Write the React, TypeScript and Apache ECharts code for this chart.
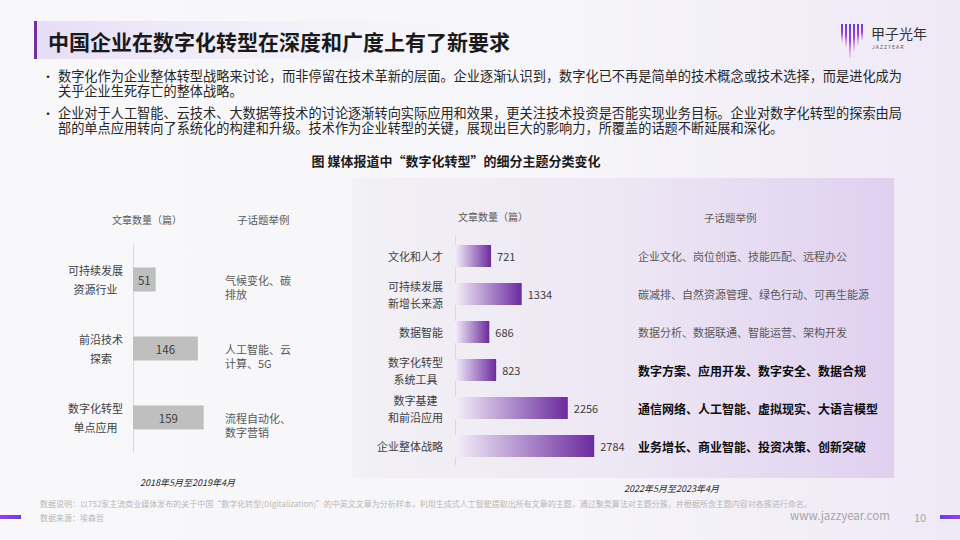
import React, { useEffect, useRef } from "react";
import * as echarts from "echarts";

const leftCategories = ["可持续发展\n资源行业", "前沿技术\n探索", "数字化转型\n单点应用"];
const leftValues = [51, 146, 159];
const leftTopics = ["气候变化、碳\n排放", "人工智能、云\n计算、5G", "流程自动化、\n数字营销"];

const rightCategories = ["文化和人才", "可持续发展\n新增长来源", "数据智能", "数字化转型\n系统工具", "数字基建\n和前沿应用", "企业整体战略"];
const rightValues = [721, 1334, 686, 823, 2256, 2784];
const rightTopics = [
  "企业文化、岗位创造、技能匹配、远程办公",
  "碳减排、自然资源管理、绿色行动、可再生能源",
  "数据分析、数据联通、智能运营、架构开发",
  "数字方案、应用开发、数字安全、数据合规",
  "通信网络、人工智能、虚拟现实、大语言模型",
  "业务增长、商业智能、投资决策、创新突破",
];
const rightTopicBold = [false, false, false, true, true, true];

const titleText = "中国企业在数字化转型在深度和广度上有了新要求";
const bullet1 = "数字化作为企业整体转型战略来讨论，而非停留在技术革新的层面。企业逐渐认识到，数字化已不再是简单的技术概念或技术选择，而是进化成为\n关乎企业生死存亡的整体战略。";
const bullet2 = "企业对于人工智能、云技术、大数据等技术的讨论逐渐转向实际应用和效果，更关注技术投资是否能实现业务目标。企业对数字化转型的探索由局\n部的单点应用转向了系统化的构建和升级。技术作为企业转型的关键，展现出巨大的影响力，所覆盖的话题不断延展和深化。";
const chartTitle = "图 媒体报道中“数字化转型”的细分主题分类变化";
const footNote = "数据说明：以752家主流商业媒体发布的关于中国“数字化转型(Digitalization)”的中英文文章为分析样本，利用生成式人工智能提取出所有文章的主题，通过聚类算法对主题分簇，并根据所含主题内容对各簇进行命名。";
const footSource = "数据来源：埃森哲";
const leftPeriod = "2018年5月至2019年4月";
const rightPeriod = "2022年5月至2023年4月";

const FF = "'Noto Sans CJK SC', 'Noto Sans', sans-serif";

function txt(x: number, y: number, text: string, o: any = {}) {
  return {
    type: "text",
    x,
    y,
    silent: true,
    style: {
      text,
      fontFamily: FF,
      fontSize: o.fontSize ?? 12,
      fontWeight: o.fontWeight ?? "normal",
      fontStyle: o.fontStyle ?? "normal",
      fill: o.fill ?? "#404040",
      align: o.align ?? "left",
      verticalAlign: o.verticalAlign ?? "middle",
      lineHeight: o.lineHeight,
    },
  };
}

const catFormatter = (v: string) =>
  v
    .split("\n")
    .map((l) => `{c|${l}}`)
    .join("\n");

// an empty leading line drops the two-line topic block slightly below the bar centre, as in the reference
const topicFormatter = (v: string) => "\n" + v;

export default function App() {
  const ref = useRef<HTMLDivElement>(null);
  useEffect(() => {
    if (!ref.current) return;
    const chart = echarts.init(ref.current, undefined, { renderer: "svg" });

    const logoBars = [
      [841, 24, 42],
      [845, 24, 47],
      [849, 24, 58],
      [853, 24, 51],
      [857, 24, 45],
      [861, 24, 40],
    ].map(([x, t, b]) => ({
      type: "rect",
      shape: { x, y: t, width: 2, height: b - t },
      style: {
        fill: new echarts.graphic.LinearGradient(0, 0, 0, 1, [
          { offset: 0, color: "#5b3fe0" },
          { offset: 0.5, color: "#a040d8" },
          { offset: 1, color: "rgba(200,120,230,0.2)" },
        ]),
      },
      silent: true,
    }));

    const option: any = {
      animation: false,
      graphic: [
        {
          type: "rect",
          shape: { x: 0, y: 0, width: 960, height: 540 },
          style: {
            fill: new echarts.graphic.LinearGradient(0, 0, 1, 0, [
              { offset: 0, color: "#f8f8fa" },
              { offset: 0.6, color: "#f6f5f9" },
              { offset: 1, color: "#efe9f6" },
            ]),
          },
          silent: true,
        },
        {
          type: "rect",
          shape: { x: 37, y: 21, width: 480, height: 38 },
          style: {
            fill: new echarts.graphic.LinearGradient(0, 0, 1, 0, [
              { offset: 0, color: "rgba(228,218,246,0.9)" },
              { offset: 1, color: "rgba(246,245,250,0)" },
            ]),
          },
          silent: true,
        },
        { type: "rect", shape: { x: 34, y: 21, width: 3, height: 38 }, style: { fill: "#7030a0" }, silent: true },
        txt(48, 41, titleText, { fontSize: 21, fontWeight: "bold", fill: "#1a1a1a" }),
        ...logoBars,
        txt(871, 33, "甲子光年", { fontSize: 14, fill: "#333333" }),
        txt(872, 46, "J A Z Z Y E A R", { fontSize: 5, fill: "#555555" }),
        txt(42, 76, "•", { fontSize: 12, fill: "#262626" }),
        txt(58, 83, bullet1, { fontSize: 13.2, fill: "#262626", lineHeight: 15 }),
        txt(42, 113, "•", { fontSize: 12, fill: "#262626" }),
        txt(58, 120, bullet2, { fontSize: 13.2, fill: "#262626", lineHeight: 15 }),
        txt(456, 160, chartTitle, { fontSize: 13, fontWeight: "bold", fill: "#1a1a1a", align: "center" }),
        {
          type: "rect",
          shape: { x: 352, y: 178, width: 542, height: 300 },
          style: {
            fill: new echarts.graphic.LinearGradient(0, 0, 1, 0, [
              { offset: 0, color: "#f2f1f5" },
              { offset: 0.5, color: "#ede7f4" },
              { offset: 1, color: "#e0d0f0" },
            ]),
          },
          silent: true,
        },
        txt(112, 219, "文章数量（篇）", { fontSize: 10, fill: "#595959" }),
        txt(237, 219, "子话题举例", { fontSize: 10.5, fill: "#595959" }),
        txt(458, 216, "文章数量（篇）", { fontSize: 10, fill: "#595959" }),
        txt(704, 217, "子话题举例", { fontSize: 10.5, fill: "#595959" }),
        txt(140, 482, leftPeriod, { fontSize: 9, fontStyle: "italic", fill: "#262626" }),
        txt(624, 488, rightPeriod, { fontSize: 9, fontStyle: "italic", fill: "#262626" }),
        txt(40, 503, footNote, { fontSize: 8, fill: "#b8b8b8" }),
        txt(40, 517, footSource, { fontSize: 8, fill: "#b8b8b8" }),
        txt(790, 515, "www.jazzyear.com", { fontSize: 11.5, fill: "#a6a6a6" }),
        txt(914, 517, "10", { fontSize: 11, fill: "#a6a6a6" }),
        {
          type: "rect",
          shape: { x: 0, y: 515, width: 21, height: 4 },
          style: {
            fill: new echarts.graphic.LinearGradient(0, 0, 1, 0, [
              { offset: 0, color: "#9b3fe0" },
              { offset: 1, color: "#6a3fe4" },
            ]),
          },
          silent: true,
        },
        {
          type: "rect",
          shape: { x: 940, y: 515, width: 20, height: 4 },
          style: {
            fill: new echarts.graphic.LinearGradient(0, 0, 1, 0, [
              { offset: 0, color: "#6a3fe4" },
              { offset: 1, color: "#9b3fe0" },
            ]),
          },
          silent: true,
        },
      ],
      grid: [
        { left: 133, top: 245, width: 80, height: 207, containLabel: false },
        { left: 455, top: 237, width: 140, height: 228, containLabel: false },
      ],
      xAxis: [
        { type: "value", gridIndex: 0, min: 0, max: 180, show: false },
        { type: "value", gridIndex: 1, min: 0, max: 2800, show: false },
      ],
      yAxis: [
        {
          type: "category",
          gridIndex: 0,
          data: leftCategories,
          inverse: true,
          axisLine: { show: true, lineStyle: { color: "#d9d9d9", width: 1 } },
          axisTick: { show: false },
          splitLine: { show: false },
          axisLabel: {
            margin: 10,
            align: "right",
            formatter: catFormatter,
            rich: { c: { align: "center", fontSize: 11, lineHeight: 19, color: "#404040", fontFamily: FF } },
          },
        },
        {
          type: "category",
          gridIndex: 0,
          position: "right",
          data: leftTopics,
          inverse: true,
          axisLine: { show: false },
          axisTick: { show: false },
          splitLine: { show: false },
          axisLabel: {
            margin: 12,
            align: "left",
            formatter: topicFormatter,
            fontSize: 11,
            lineHeight: 14,
            color: "#595959",
            fontFamily: FF,
          },
        },
        {
          type: "category",
          gridIndex: 1,
          data: rightCategories,
          inverse: true,
          axisLine: { show: true, lineStyle: { color: "#d9d9d9", width: 1 } },
          axisTick: { show: false },
          splitLine: { show: false },
          axisLabel: {
            margin: 12,
            align: "right",
            formatter: catFormatter,
            rich: { c: { align: "center", fontSize: 11, lineHeight: 17, color: "#404040", fontFamily: FF } },
          },
        },
        {
          type: "category",
          gridIndex: 1,
          position: "right",
          data: rightTopics,
          inverse: true,
          axisLine: { show: false },
          axisTick: { show: false },
          splitLine: { show: false },
          axisLabel: {
            margin: 43,
            align: "left",
            formatter: (v: string, i: number) => (rightTopicBold[i] ? `{b|${v}}` : `{g|${v}}`),
            rich: {
              g: { fontSize: 11, color: "#595959", fontFamily: FF },
              b: { fontSize: 12, fontWeight: "bold", color: "#0d0d0d", fontFamily: FF },
            },
          },
        },
      ],
      series: [
        {
          type: "bar",
          xAxisIndex: 0,
          yAxisIndex: 0,
          data: leftValues,
          barWidth: 24,
          itemStyle: { color: "#bfbfbf" },
          label: { show: true, position: "inside", color: "#404040", fontSize: 11.5, fontFamily: FF },
        },
        {
          type: "bar",
          xAxisIndex: 1,
          yAxisIndex: 2,
          data: rightValues,
          barWidth: 22,
          itemStyle: {
            color: new echarts.graphic.LinearGradient(0, 0, 1, 0, [
              { offset: 0, color: "#f4eff9" },
              { offset: 1, color: "#6b2b9e" },
            ]),
          },
          label: { show: true, position: "right", distance: 6, color: "#404040", fontSize: 11, fontFamily: FF },
        },
      ],
    };
    chart.setOption(option);
    return () => chart.dispose();
  }, []);
  return (
    <div
      ref={ref}
      style={{ position: "absolute", left: 0, top: 0, width: 960, height: 540 }}
    />
  );
}
